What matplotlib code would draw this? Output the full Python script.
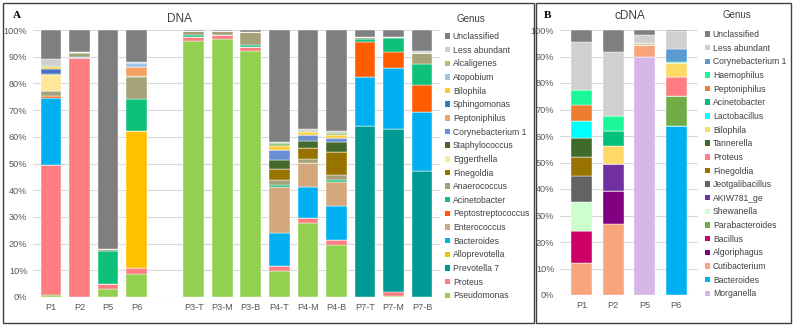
import matplotlib
matplotlib.use("Agg")
import numpy as np
import matplotlib.pyplot as plt
from matplotlib.patches import Rectangle, Patch

plt.rcParams['font.family'] = ['Liberation Sans', 'DejaVu Sans']

# ---- DNA panel (A) ----
dna_samples = ["P1", "P2", "P5", "P6", "", "P3-T", "P3-M", "P3-B",
               "P4-T", "P4-M", "P4-B", "P7-T", "P7-M", "P7-B"]
# genera listed bottom -> top of the stack
dna_genus = ["Pseudomonas", "Proteus", "Prevotella 7", "Alloprevotella", "Bacteroides",
             "Enterococcus", "Peptostreptococcus", "Acinetobacter", "Anaerococcus",
             "Finegoldia", "Eggerthella", "Staphylococcus", "Corynebacterium 1",
             "Peptoniphilus", "Sphingomonas", "Bilophila", "Atopobium", "Alcaligenes",
             "Less abundant", "Unclassified"]
dna_colors = ["#92d050", "#ff7c80", "#009a94", "#ffc000", "#00b0f0",
              "#d5a77c", "#ff5b00", "#0fc07a", "#a5a27a",
              "#997300", "#ffe699", "#43682b", "#6b8fd2",
              "#f4a060", "#4472c4", "#ffcc33", "#9dc3e6", "#9bc87a",
              "#d0d0d0", "#7f7f7f"]

#                P1    P2    P5    P6  -  P3T   P3M   P3B   P4T   P4M   P4B   P7T   P7M   P7B
pseudomonas   = [0.9,  0,    2.9,  8.8, 0, 95.9, 96.6, 92.1, 9.9,  27.8, 19.5, 0,    0.5,  0]
proteus       = [48.5, 89.4, 2.1,  2.1, 0, 1.6,  1.6,  1.6,  1.7,  1.8,  1.8,  0,    1.5,  0]
prevotella7   = [0,    0,    0,    0,   0, 0,    0,    0,    0,    0,    0,    64.2, 60.8, 47.3]
alloprevotella= [0,    0,    0,    51.3,0, 0,    0,    0,    0,    0,    0,    0,    0,    0]
bacteroides   = [25.2, 0.6,  0,    0,   0, 0,    0,    0,    12.5, 11.5, 12.8, 18.3, 22.8, 21.9]
enterococcus  = [0,    0,    0,    0,   0, 0,    0,    0,    17.0, 9.0,  9.0,  0,    0,    0]
peptostrep    = [0.5,  0,    0,    0,   0, 0,    0,    0,    0,    0,    0,    13.1, 6.3,  10.2]
acinetobacter = [0,    0,    12.2, 11.8,0, 0.6,  0,    0.7,  0.8,  0,    0.7,  1.0,  5.0,  7.9]
anaerococcus  = [2.1,  1.4,  0.6,  8.5, 0, 1.6,  1.6,  5.0,  1.8,  1.5,  1.9,  0.7,  0.4,  4.2]
finegoldia    = [0,    0,    0,    0.3, 0, 0,    0,    0,    4.1,  4.1,  8.7,  0,    0,    0]
eggerthella   = [6.0,  0.4,  0,    0,   0, 0,    0,    0,    0,    0,    0,    0,    0,    0]
staphylococcus= [0.2,  0,    0,    0,   0, 0,    0,    0,    3.5,  2.8,  3.5,  0,    0,    0]
corynebact1   = [0.2,  0,    0,    0,   0, 0,    0,    0,    3.8,  2.2,  1.8,  0,    0,    0]
peptoniphilus = [0,    0,    0,    3.5, 0, 0,    0,    0,    0,    0,    0,    0,    0,    0]
sphingomonas  = [1.9,  0,    0,    0,   0, 0,    0,    0,    0,    0,    0,    0,    0,    0]
bilophila     = [0.5,  0,    0,    0,   0, 0,    0,    0,    1.6,  1.0,  1.1,  0,    0,    0]
atopobium     = [0.3,  0,    0,    1.4, 0, 0,    0,    0,    0,    0,    0,    0,    0,    0]
alcaligenes   = [0.3,  0,    0,    0,   0, 0,    0,    0,    1.1,  0.5,  0.8,  0,    0,    0]
less_abund    = [2.4,  0,    0.3,  0.2, 0, 0,    0,    0,    0.3,  0.6,  0.7,  0,    0,    0.6]
unclassified  = [11.0, 8.2,  81.9, 12.1,0, 0.3,  0.2,  0.6,  41.9, 37.2, 37.7, 2.7,  2.7,  7.9]

dna_values = [pseudomonas, proteus, prevotella7, alloprevotella, bacteroides,
              enterococcus, peptostrep, acinetobacter, anaerococcus, finegoldia,
              eggerthella, staphylococcus, corynebact1, peptoniphilus, sphingomonas,
              bilophila, atopobium, alcaligenes, less_abund, unclassified]

# ---- cDNA panel (B) ----
cdna_samples = ["P1", "P2", "P5", "P6"]
cdna_genus = ["Morganella", "Bacteroides", "Cutibacterium", "Algoriphagus", "Bacillus",
              "Parabacteroides", "Shewanella", "AKIW781_ge", "Jeotgalibacillus",
              "Finegoldia", "Proteus", "Tannerella", "Bilophila", "Lactobacillus",
              "Acinetobacter", "Peptoniphilus", "Haemophilus", "Corynebacterium 1",
              "Less abundant", "Unclassified"]
cdna_colors = ["#d6b6e8", "#00b0f0", "#f8a57c", "#800080", "#cc0066",
               "#70ad47", "#ccffcc", "#7030a0", "#636363",
               "#997300", "#ff7c80", "#3e6b2b", "#ffd966", "#00ffff",
               "#00c07a", "#ed7d31", "#1cf79a", "#5b9bd5",
               "#d0d0d0", "#7f7f7f"]

#                 P1    P2    P5    P6
c_morganella   = [0,    0,    89.7, 0]
c_bacteroides  = [0,    0,    0,    63.9]
c_cutibacterium= [12.0, 26.8, 4.6,  0]
c_algoriphagus = [0,    12.4, 0,    0]
c_bacillus     = [12.2, 0,    0,    0]
c_parabact     = [0,    0,    0,    11.2]
c_shewanella   = [10.9, 0,    0,    0]
c_akiw781      = [0,    10.1, 0,    0]
c_jeotgali     = [9.9,  0,    0,    0]
c_finegoldia   = [7.2,  0,    0.5,  0]
c_proteus      = [0,    0,    0,    7.0]
c_tannerella   = [7.0,  0,    0.4,  0]
c_bilophila    = [0,    6.9,  0,    5.6]
c_lactobacillus= [6.5,  0,    0,    0]
c_acinetobacter= [0,    5.8,  0,    0]
c_peptoniphilus= [5.9,  0,    0,    0]
c_haemophilus  = [5.8,  5.5,  0,    0.3]
c_corynebact1  = [0,    0,    0,    4.7]
c_less_abund   = [18.1, 24.3, 2.9,  7.0]
c_unclassified = [4.5,  8.2,  1.9,  0.3]

cdna_values = [c_morganella, c_bacteroides, c_cutibacterium, c_algoriphagus, c_bacillus,
               c_parabact, c_shewanella, c_akiw781, c_jeotgali, c_finegoldia,
               c_proteus, c_tannerella, c_bilophila, c_lactobacillus, c_acinetobacter,
               c_peptoniphilus, c_haemophilus, c_corynebact1, c_less_abund, c_unclassified]

W, H = 794, 327
fig = plt.figure(figsize=(W / 100, H / 100), dpi=100)

def fx(px):
    return px / W

def fy(py):
    return 1 - py / H

tick_col = "#595959"
txt_col = "#404040"


def stacked(ax, samples, genus, values, colors, width):
    x = np.arange(len(samples))
    bottom = np.zeros(len(samples))
    for name, vals, col in zip(genus, values, colors):
        vals = np.array(vals, dtype=float)
        ax.bar(x, vals, width, bottom=bottom, color=col, label=name,
               edgecolor="white", linewidth=0.3, zorder=3)
        bottom += vals
    ax.set_ylim(0, 100)
    ax.set_yticks(np.arange(0, 101, 10))
    ax.set_yticklabels([f"{v}%" for v in range(0, 101, 10)])
    ax.set_xticks(x)
    ax.set_xticklabels(samples)
    ax.grid(axis="y", color="#d9d9d9", linewidth=0.8, zorder=0)
    for s in ax.spines.values():
        s.set_visible(False)
    ax.tick_params(length=0, labelsize=6.6, colors=tick_col, pad=4)
    return x


# panel A axes
axA = fig.add_axes([fx(33), fy(297), fx(440 - 33), (297 - 30) / H])
stacked(axA, dna_samples, dna_genus, dna_values, dna_colors, 0.72)
axA.set_xlim(-0.63, 13.63)

# panel B axes
axB = fig.add_axes([fx(560), fy(295), fx(698 - 560), (295 - 30) / H])
stacked(axB, cdna_samples, cdna_genus, cdna_values, cdna_colors, 0.67)
axB.set_xlim(-0.7, 3.7)

# legends (reverse order like the stack)
def add_legend(genus, colors, x0, y0):
    handles = [Patch(facecolor=c, edgecolor="none") for c in colors][::-1]
    leg = fig.legend(handles, genus[::-1], loc="upper left",
                     bbox_to_anchor=(fx(x0), fy(y0)), frameon=False,
                     fontsize=6.2, handlelength=0.6, handleheight=0.6,
                     handletextpad=0.3, labelspacing=0.54, borderpad=0,
                     borderaxespad=0)
    for t in leg.get_texts():
        t.set_color(txt_col)

add_legend(dna_genus, dna_colors, 445, 32)
add_legend(cdna_genus, cdna_colors, 705, 30)

# titles and panel letters
fig.text(fx(180), fy(19), "DNA", ha="center", va="center", fontsize=8.5, color=txt_col)
fig.text(fx(471), fy(19), "Genus", ha="center", va="center", fontsize=7, color=txt_col)
fig.text(fx(630), fy(16), "cDNA", ha="center", va="center", fontsize=8.5, color=txt_col)
fig.text(fx(737), fy(15), "Genus", ha="center", va="center", fontsize=7, color=txt_col)
fig.text(fx(17), fy(15), "A", ha="center", va="center", fontsize=8,
         fontweight="bold", family="Liberation Serif")
fig.text(fx(548), fy(15), "B", ha="center", va="center", fontsize=8,
         fontweight="bold", family="Liberation Serif")

# panel frames
for x0, x1 in [(3, 534), (536, 791)]:
    fig.patches.append(Rectangle((fx(x0), fy(323)), fx(x1 - x0), (323 - 3) / H,
                                 transform=fig.transFigure, fill=False,
                                 edgecolor="#404040", linewidth=1.0))

fig.savefig("out.png", dpi=100)
